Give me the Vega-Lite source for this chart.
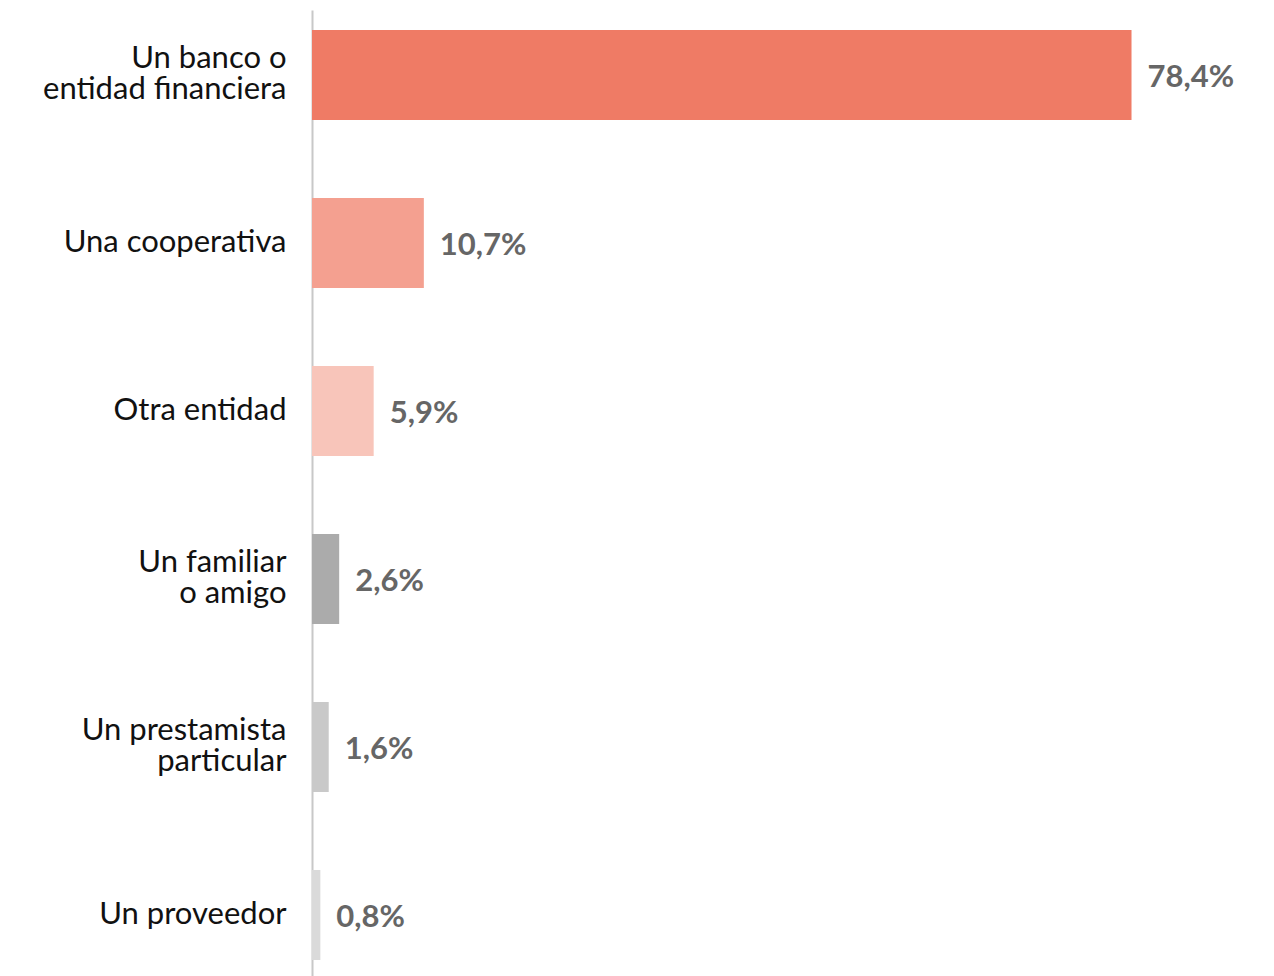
{
  "$schema": "https://vega.github.io/schema/vega-lite/v6.json",
  "autosize": "none",
  "width": 900,
  "height": 970,
  "padding": {"left": 312, "top": 10, "right": 62, "bottom": 0},
  "background": "white",
  "config": {"view": {"stroke": null}},
  "data": {
    "values": [
      {"cat": "Un banco o|entidad financiera", "v": 78.4, "t": "78,4%"},
      {"cat": "Una cooperativa", "v": 10.7, "t": "10,7%"},
      {"cat": "Otra entidad", "v": 5.9, "t": "5,9%"},
      {"cat": "Un familiar|o amigo", "v": 2.6, "t": "2,6%"},
      {"cat": "Un prestamista|particular", "v": 1.6, "t": "1,6%"},
      {"cat": "Un proveedor", "v": 0.8, "t": "0,8%"}
    ]
  },
  "encoding": {
    "y": {
      "field": "cat", "type": "nominal", "sort": null,
      "scale": {"paddingInner": 0.4643, "paddingOuter": 0.119},
      "axis": {
        "title": null, "ticks": false, "grid": false,
        "domainColor": "#c8c8c8", "domainWidth": 2,
        "labelFont": "Lato", "labelFontSize": 31, "labelColor": "#111",
        "labelPadding": 26, "labelLineHeight": 31,
        "labelOffset": {"condition": {"test": "indexof(datum.value, '|') >= 0", "value": -16}, "value": 0},
        "labelExpr": "split(datum.label, '|')", "labelLimit": 400
      }
    },
    "x": {
      "field": "v", "type": "quantitative",
      "scale": {"domain": [0, 86.1], "nice": false},
      "axis": null
    }
  },
  "layer": [
    {
      "mark": {"type": "bar"},
      "encoding": {
        "color": {
          "field": "cat", "type": "nominal", "legend": null,
          "scale": {
            "domain": ["Un banco o|entidad financiera", "Una cooperativa", "Otra entidad", "Un familiar|o amigo", "Un prestamista|particular", "Un proveedor"],
            "range": ["#EF7B65", "#F4A090", "#F8C5BA", "#ABABAB", "#C9C9C9", "#DADADA"]
          }
        }
      }
    },
    {
      "mark": {"type": "text", "align": "left", "baseline": "middle", "dx": 16, "dy": 3, "font": "Lato", "fontSize": 31, "fontWeight": "bold", "color": "#666666"},
      "encoding": {"text": {"field": "t"}}
    }
  ]
}
